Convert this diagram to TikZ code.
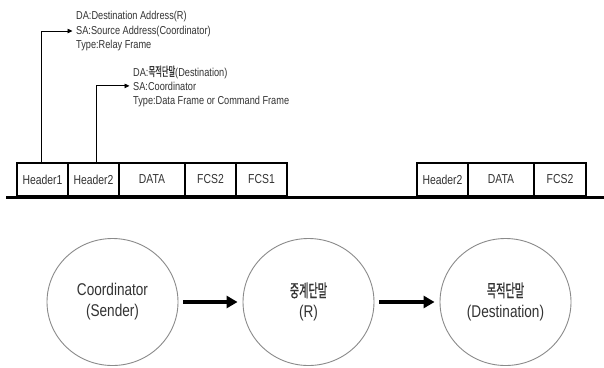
\documentclass[tikz,border=0pt]{standalone}
\usepackage{fontspec}
\setmainfont{Liberation Sans}[FakeStretch=0.8]
\newfontfamily\kr{Noto Sans CJK KR}[FakeStretch=0.58,FakeBold=0.8]
\usetikzlibrary{arrows.meta,shapes.geometric}
\definecolor{txt}{HTML}{333333}
\definecolor{ring}{HTML}{8A8A8A}
\tikzset{
 note/.style={anchor=base west, inner sep=0pt, text=txt, font=\fontsize{11.5}{14}\selectfont},
 cell/.style={draw=black, line width=1.2pt, minimum height=33pt, inner sep=0pt, text=txt, font=\fontsize{13}{15}\selectfont},
 station/.style={ellipse, draw=ring, line width=0.9pt, minimum width=131pt, minimum height=127pt, inner sep=0pt, align=center, text=txt, font=\fontsize{17}{21}\selectfont},
 pointer/.style={line width=0.8pt, -{Triangle[length=5pt,width=4.5pt]}, shorten >=3.5pt},
 flow/.style={line width=3.5pt, -{Triangle[length=11pt,width=12pt]}, shorten <=5pt, shorten >=5pt},
 wire/.style={line width=2.5pt}
}
\begin{document}
\begin{tikzpicture}[x=1pt,y=-1pt]
\useasboundingbox (0,0) rectangle (604,367);
\fill[white] (0,0) rectangle (604,367);

% notes
\node[note] (t1a) at (76,19) {DA:Destination Address(R)};
\node[note] (t1b) at (76,34) {SA:Source Address(Coordinator)};
\node[note] (t1c) at (76,48) {Type:Relay Frame};
\node[note] (t2a) at (133,76) {DA:{\kr\fontsize{12.5}{14}\selectfont 목적단말}(Destination)};
\node[note] (t2b) at (133,90) {SA:Coordinator};
\node[note] (t2c) at (133,104) {Type:Data Frame or Command Frame};

% frames
\node[cell, minimum width=51pt] (h1) at (42.5,179.5) {Header1};
\node[cell, minimum width=51pt] (h2) at (93.5,179.5) {Header2};
\node[cell, minimum width=66pt] (d1) at (152,179.5) {DATA};
\node[cell, minimum width=51pt] (f2) at (210.5,179.5) {FCS2};
\node[cell, minimum width=51pt] (f1) at (261.5,179.5) {FCS1};

\node[cell, minimum width=51pt] (rh2) at (442.5,179.5) {Header2};
\node[cell, minimum width=66pt] (rd) at (501,179.5) {DATA};
\node[cell, minimum width=52pt] (rf2) at (560,179.5) {FCS2};

\draw[wire] (6,197.5) -- (604,197.5);

% pointers
\draw[pointer] ([xshift=-1pt]h1.north) |- (t1b.west);
\draw[pointer] ([xshift=2.5pt]h2.north) |- (t2b.west);

% stations
\node[station] (c1) at (112.5,302) {Coordinator\\(Sender)};
\node[station] (c2) at (308.5,302) {{\kr\fontsize{17.5}{21}\selectfont 중계단말}\\(R)};
\node[station] (c3) at (505.5,302) {{\kr\fontsize{17.5}{21}\selectfont 목적단말}\\(Destination)};

\draw[flow] (c1) -- (c2);
\draw[flow] (c2) -- (c3);
\end{tikzpicture}
\end{document}
